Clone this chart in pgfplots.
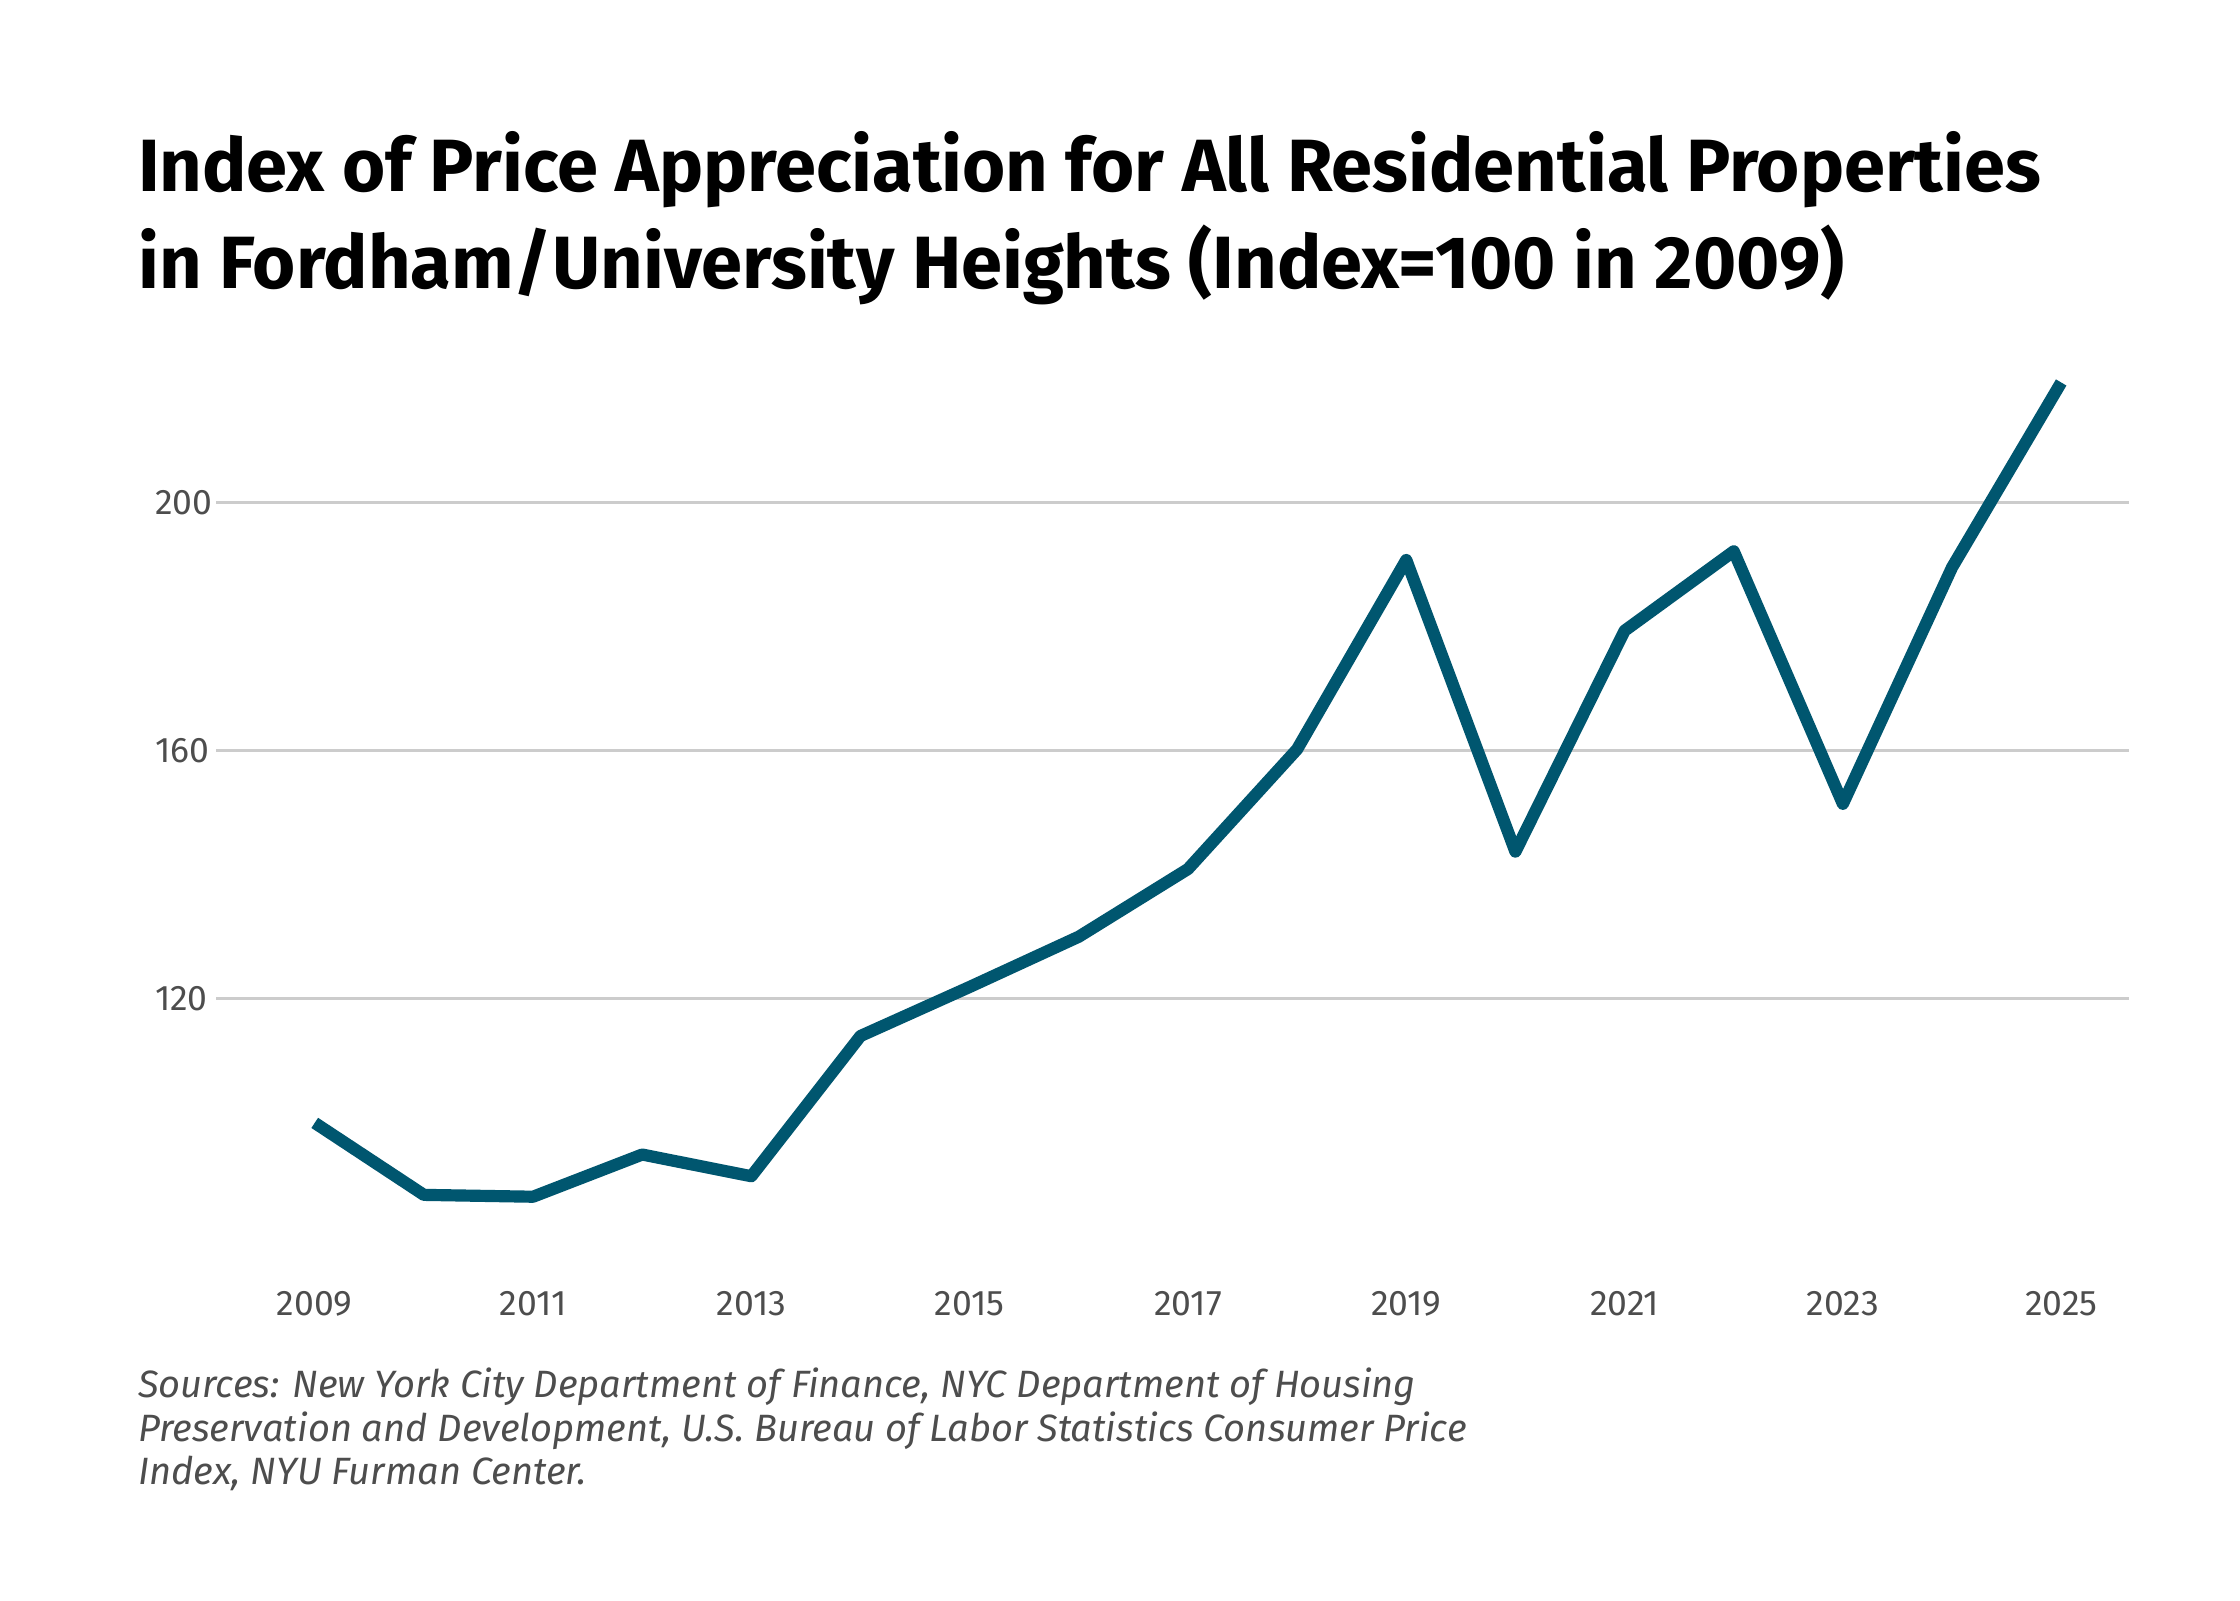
\documentclass[border=0pt]{standalone}
\usepackage{pgfplots}
\pgfplotsset{compat=1.18}
\usepackage{fontspec}
\setmainfont{Fira Sans}
\definecolor{line}{HTML}{00566F}
\definecolor{tick}{HTML}{4D4D4D}
\begin{document}
\begin{tikzpicture}
\useasboundingbox (0,0) rectangle (15.52cm,11.086cm);
\fill[white] (0,0) rectangle (15.52cm,11.086cm);
\node[anchor=base west, font=\fontsize{14.6}{17}\selectfont\bfseries, inner sep=0] at (0.95cm,9.76cm) {Index of Price Appreciation for All Residential Properties};
\node[anchor=base west, font=\fontsize{14.6}{17}\selectfont\bfseries, inner sep=0] at (0.95cm,9.09cm) {in Fordham/University Heights (Index=100 in 2009)};
\begin{axis}[
  at={(1.5cm,2.446cm)}, anchor=south west, scale only axis,
  width=13.25cm, height=6.235cm,
  xmin=2008.1, xmax=2025.62, ymin=80, ymax=225,
  axis line style={draw=none}, tick style={draw=none},
  ymajorgrids, grid style={draw=black!20, line width=0.5pt},
  ytick={120,160,200}, xtick={2009,2011,...,2025},
  xticklabel style={/pgf/number format/1000 sep={}, font=\fontsize{7}{8}\selectfont, text=tick, yshift=-0.18cm},
  yticklabel style={font=\fontsize{7}{8}\selectfont, text=tick, anchor=west, xshift=-0.55cm},
  /pgf/number format/assume math mode=true,
]
\addplot[line, line width=2.4pt, line join=round] coordinates {
(2009,100) (2010,88.4) (2011,88.1) (2012,94.9) (2013,91.4) (2014,114) (2015,121.9) (2016,130) (2017,140.9) (2018,160.2) (2019,190.7) (2020,143.7) (2021,179.3) (2022,192.1) (2023,151.4) (2024,189.5) (2025,219.3)};
\end{axis}
\begin{scope}[every node/.style={anchor=base west, font=\fontsize{7.5}{9}\selectfont\itshape\color{tick}\fontseries{l}\selectfont, inner sep=0}]
\node at (0.95cm,1.40cm) {Sources: New York City Department of Finance, NYC Department of Housing};
\node at (0.95cm,1.10cm) {Preservation and Development, U.S. Bureau of Labor Statistics Consumer Price};
\node at (0.95cm,0.80cm) {Index, NYU Furman Center.};
\end{scope}
\end{tikzpicture}
\end{document}
